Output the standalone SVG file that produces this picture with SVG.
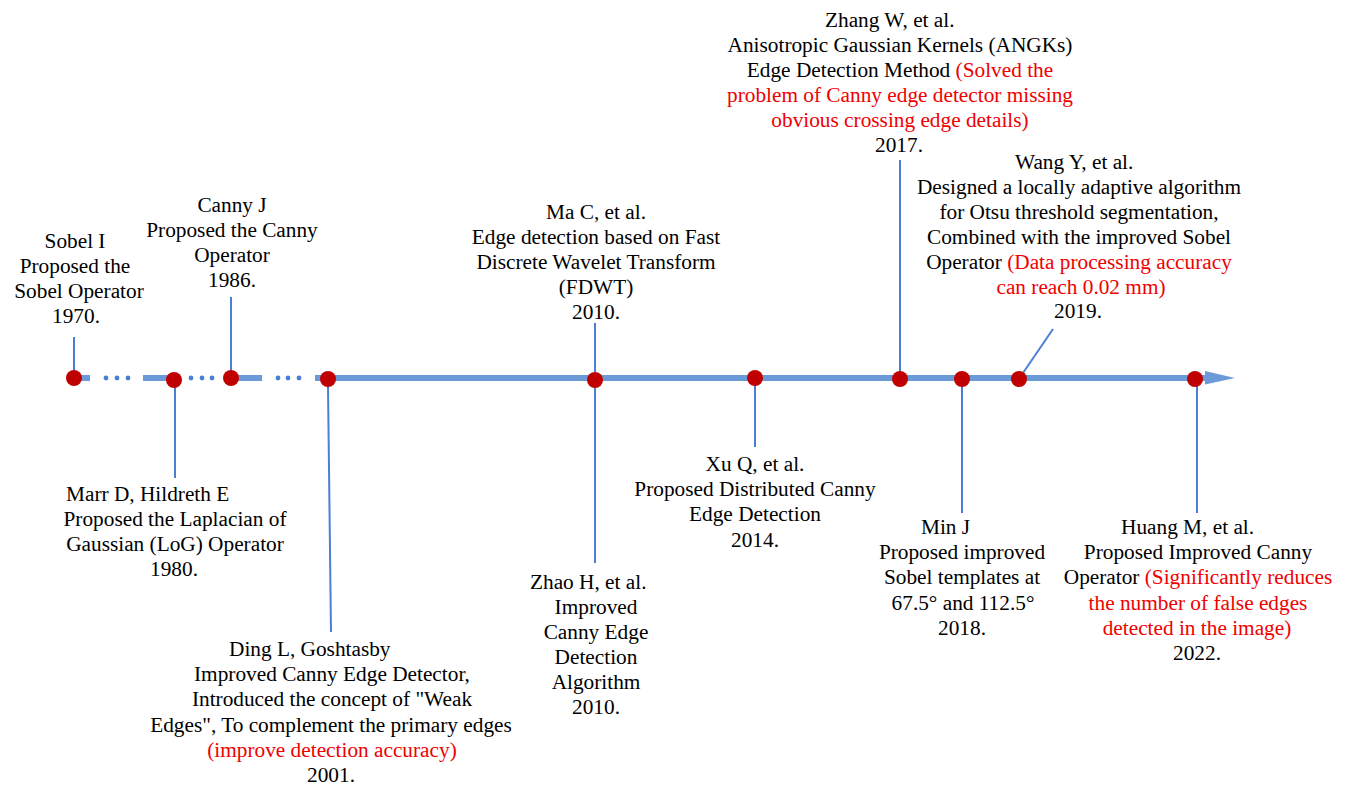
<svg xmlns="http://www.w3.org/2000/svg" width="1346" height="786" viewBox="0 0 1346 786">
<style>
text{font-family:"Liberation Serif","Tinos","Times New Roman","DejaVu Serif",serif;font-size:21.3px;fill:#000}
.c{text-anchor:middle}
.s{text-anchor:start}
.r{fill:#f00000}
.ax{stroke:#6a9bd8;stroke-width:6;fill:none}
.dot{fill:#4a7fd4}
.ld{stroke:#4a7fd4;stroke-width:2;fill:none}
.pt{fill:#c00000}
</style>
<rect width="1346" height="786" fill="#fff"/>
<g id="axis">
<line class="ax" x1="74" y1="378" x2="90" y2="378"/>
<circle class="dot" cx="106" cy="378" r="2.4"/><circle class="dot" cx="117" cy="378" r="2.4"/><circle class="dot" cx="128" cy="378" r="2.4"/>
<line class="ax" x1="143" y1="378" x2="174" y2="378"/>
<circle class="dot" cx="191" cy="378" r="2.4"/><circle class="dot" cx="202" cy="378" r="2.4"/><circle class="dot" cx="212" cy="378" r="2.4"/>
<line class="ax" x1="231" y1="378" x2="262" y2="378"/>
<circle class="dot" cx="278" cy="378" r="2.4"/><circle class="dot" cx="288" cy="378" r="2.4"/><circle class="dot" cx="299" cy="378" r="2.4"/>
<line class="ax" x1="315" y1="378" x2="1207" y2="378"/>
<polygon points="1205,371 1235,378 1205,384.5" fill="#6a9bd8"/>
</g>
<g id="connectors">
<line class="ld" x1="74" y1="337" x2="74" y2="372"/>
<line class="ld" x1="175" y1="386" x2="175" y2="478"/>
<line class="ld" x1="231" y1="297" x2="231" y2="372"/>
<line class="ld" x1="328" y1="386" x2="331" y2="632"/>
<line class="ld" x1="595" y1="323" x2="595" y2="372"/>
<line class="ld" x1="595" y1="386" x2="595" y2="563"/>
<line class="ld" x1="755" y1="384" x2="755" y2="447"/>
<line class="ld" x1="900" y1="160" x2="900" y2="372"/>
<line class="ld" x1="962" y1="384" x2="962" y2="513"/>
<line class="ld" x1="1023" y1="373" x2="1053" y2="329"/>
<line class="ld" x1="1197" y1="384" x2="1197" y2="513"/>
</g>
<g id="points">
<circle class="pt" cx="74" cy="378" r="8"/>
<circle class="pt" cx="174" cy="380" r="8"/>
<circle class="pt" cx="231" cy="378" r="8"/>
<circle class="pt" cx="328" cy="379" r="8"/>
<circle class="pt" cx="595" cy="380" r="8"/>
<circle class="pt" cx="755" cy="378" r="8"/>
<circle class="pt" cx="900" cy="379" r="8"/>
<circle class="pt" cx="962" cy="379" r="8"/>
<circle class="pt" cx="1019" cy="379" r="8"/>
<circle class="pt" cx="1195" cy="379" r="8"/>
</g>
<g id="n1970">
<text class="c" x="75" y="248">Sobel I</text>
<text class="c" x="75" y="273">Proposed the</text>
<text class="c" x="79" y="298">Sobel Operator</text>
<text class="c" x="76" y="323">1970.</text>
</g>
<g id="n1980">
<text class="s" x="66" y="501">Marr D, Hildreth E</text>
<text class="c" x="175" y="526">Proposed the Laplacian of</text>
<text class="c" x="175" y="551">Gaussian (LoG) Operator</text>
<text class="c" x="174" y="576">1980.</text>
</g>
<g id="n1986">
<text class="c" x="232" y="212">Canny J</text>
<text class="c" x="232" y="237">Proposed the Canny</text>
<text class="c" x="232" y="262">Operator</text>
<text class="c" x="232" y="287">1986.</text>
</g>
<g id="n2001">
<text class="s" x="229" y="656">Ding L, Goshtasby</text>
<text class="c" x="332" y="681">Improved Canny Edge Detector,</text>
<text class="c" x="332" y="706">Introduced the concept of "Weak</text>
<text class="c" x="331" y="732">Edges", To complement the primary edges</text>
<text class="c r" x="332" y="757">(improve detection accuracy)</text>
<text class="c" x="331" y="782">2001.</text>
</g>
<g id="n2010a">
<text class="c" x="596" y="219">Ma C, et al.</text>
<text class="c" x="596" y="244">Edge detection based on Fast</text>
<text class="c" x="596" y="269">Discrete Wavelet Transform</text>
<text class="c" x="596" y="294">(FDWT)</text>
<text class="c" x="596" y="319">2010.</text>
</g>
<g id="n2010b">
<text class="s" x="530" y="589">Zhao H, et al.</text>
<text class="c" x="596" y="614">Improved</text>
<text class="c" x="596" y="639">Canny Edge</text>
<text class="c" x="596" y="664">Detection</text>
<text class="c" x="596" y="689">Algorithm</text>
<text class="c" x="596" y="714">2010.</text>
</g>
<g id="n2014">
<text class="c" x="755" y="471">Xu Q, et al.</text>
<text class="c" x="755" y="496">Proposed Distributed Canny</text>
<text class="c" x="755" y="521">Edge Detection</text>
<text class="c" x="755" y="547">2014.</text>
</g>
<g id="n2017">
<text class="s" x="825" y="27">Zhang W, et al.</text>
<text class="c" x="900" y="52">Anisotropic Gaussian Kernels (ANGKs)</text>
<text class="c" x="900" y="77">Edge Detection Method <tspan class="r">(Solved the</tspan></text>
<text class="c r" x="900" y="102">problem of Canny edge detector missing</text>
<text class="c r" x="900" y="127">obvious crossing edge details)</text>
<text class="c" x="899" y="152">2017.</text>
</g>
<g id="n2018">
<text class="s" x="921" y="534">Min J</text>
<text class="c" x="962" y="559">Proposed improved</text>
<text class="c" x="962" y="584">Sobel templates at</text>
<text class="c" x="963" y="610">67.5° and 112.5°</text>
<text class="c" x="962" y="635">2018.</text>
</g>
<g id="n2019">
<text class="s" x="1015" y="169">Wang Y, et al.</text>
<text class="c" x="1079" y="194">Designed a locally adaptive algorithm</text>
<text class="c" x="1079" y="219">for Otsu threshold segmentation,</text>
<text class="c" x="1079" y="244">Combined with the improved Sobel</text>
<text class="c" x="1079" y="269">Operator <tspan class="r">(Data processing accuracy</tspan></text>
<text class="c r" x="1081" y="294">can reach 0.02 mm)</text>
<text class="c" x="1078" y="318">2019.</text>
</g>
<g id="n2022">
<text class="s" x="1121" y="534">Huang M, et al.</text>
<text class="c" x="1198" y="559">Proposed Improved Canny</text>
<text class="c" x="1198" y="584">Operator <tspan class="r">(Significantly reduces</tspan></text>
<text class="c r" x="1198" y="610">the number of false edges</text>
<text class="c r" x="1197" y="635">detected in the image)</text>
<text class="c" x="1197" y="660">2022.</text>
</g>
</svg>
